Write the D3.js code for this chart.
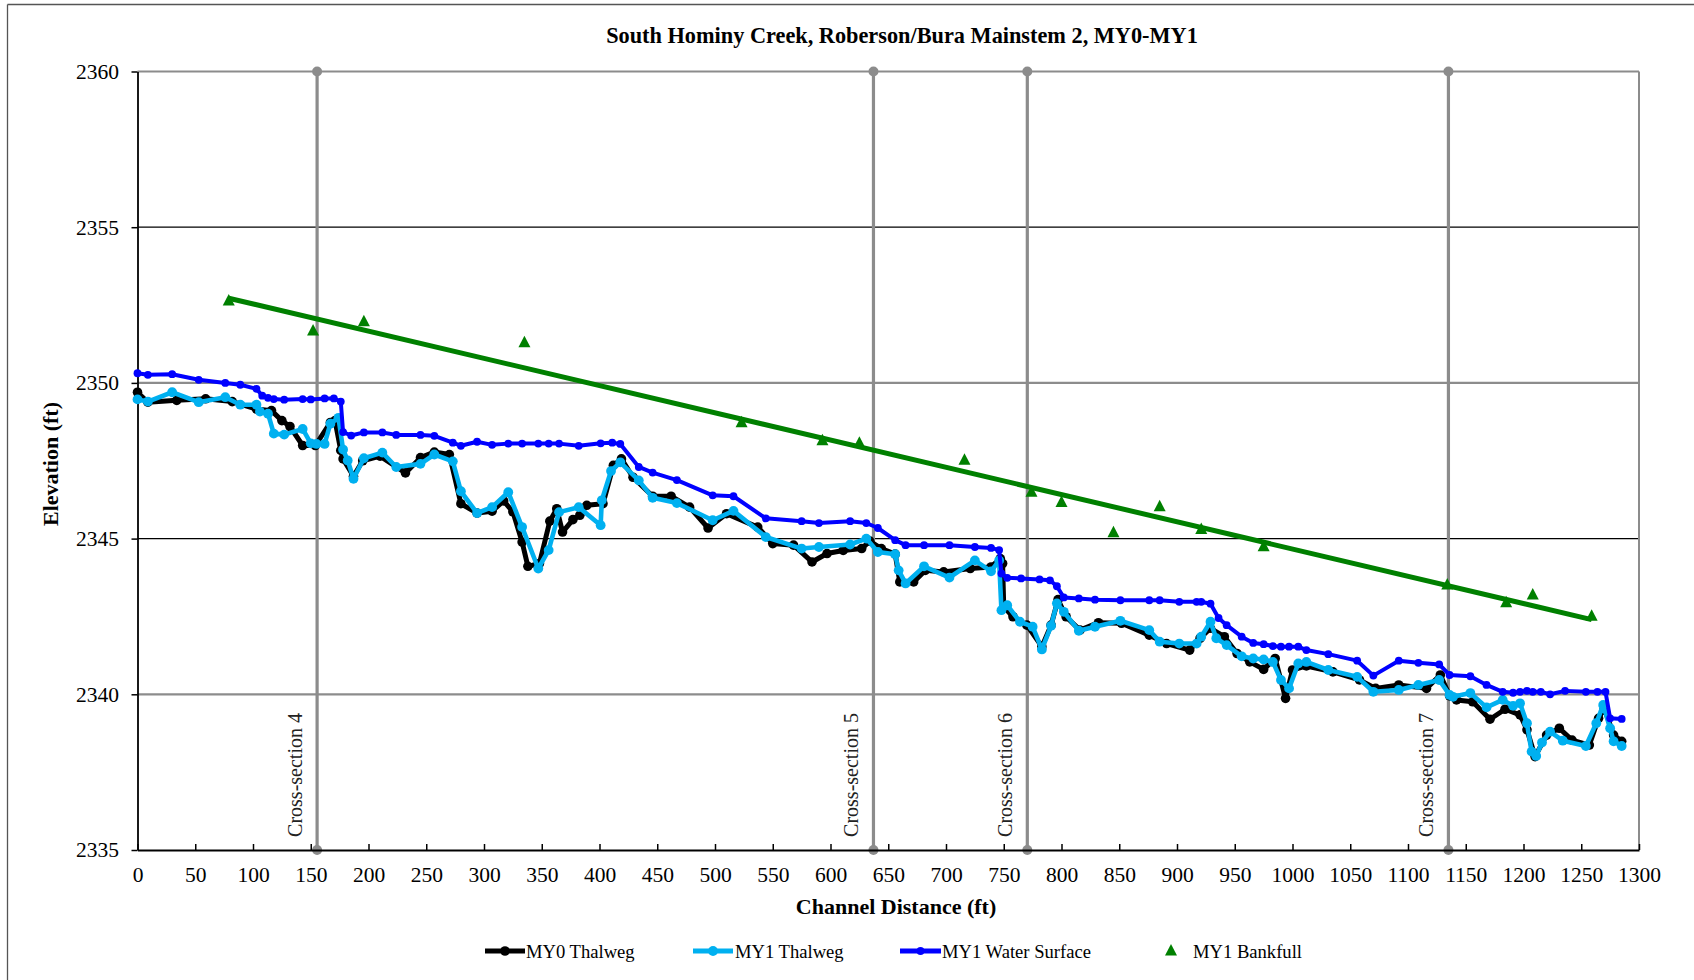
<!DOCTYPE html>
<html><head><meta charset="utf-8">
<script src="https://cdn.jsdelivr.net/npm/d3@7/dist/d3.min.js"></script>
<style>
body{margin:0;background:#fff}
svg{display:block}
text{font-family:"Liberation Serif","Times New Roman",serif;fill:#000}
</style>
</head><body>
<svg id="chart" width="1694" height="980"></svg>
<script>
// ---------- DATA ----------
const chartTitle = "South Hominy Creek, Roberson/Bura Mainstem 2, MY0-MY1";
const xTitle = "Channel Distance (ft)";
const yTitle = "Elevation (ft)";

const my0Thalweg = [[0,2349.70],[9,2349.38],[34,2349.44],[59,2349.49],[82,2349.40],[103,2349.16],[116,2349.11],[125,2348.79],[132,2348.60],[143,2347.99],[154,2347.99],[167,2348.73],[171,2348.79],[176,2347.83],[178,2347.56],[187,2347.00],[195,2347.50],[210,2347.65],[232,2347.11],[245,2347.60],[257,2347.78],[270,2347.70],[280,2346.12],[294,2345.82],[307,2345.88],[317,2346.21],[325,2345.86],[333,2344.89],[338,2344.11],[348,2344.20],[357,2345.56],[363,2345.96],[368,2345.21],[377,2345.61],[383,2345.75],[389,2346.07],[403,2346.12],[412,2347.35],[419,2347.56],[429,2346.97],[446,2346.36],[462,2346.36],[478,2346.01],[494,2345.34],[510,2345.80],[537,2345.37],[550,2344.84],[568,2344.79],[584,2344.25],[597,2344.52],[611,2344.62],[627,2344.68],[634,2344.92],[644,2344.68],[656,2344.50],[660,2343.61],[672,2343.61],[682,2343.98],[698,2343.93],[721,2344.04],[739,2344.09],[747,2344.36],[749,2344.20],[750,2342.81],[758,2342.49],[770,2342.22],[783,2341.53],[791,2342.22],[797,2343.04],[804,2342.49],[816,2342.06],[832,2342.30],[852,2342.28],[876,2341.90],[891,2341.63],[911,2341.42],[920,2341.80],[929,2342.12],[941,2341.85],[952,2341.31],[963,2341.04],[975,2340.80],[985,2341.15],[994,2339.87],[1000,2340.78],[1012,2340.91],[1035,2340.72],[1058,2340.46],[1072,2340.19],[1092,2340.30],[1116,2340.19],[1128,2340.62],[1136,2339.95],[1142,2339.82],[1156,2339.76],[1171,2339.20],[1184,2339.52],[1197,2339.34],[1203,2338.86],[1210,2338.00],[1220,2338.69],[1231,2338.91],[1242,2338.53],[1257,2338.37],[1265,2339.23],[1270,2339.55],[1278,2338.69],[1285,2338.49]];

const my1Thalweg = [[0,2349.47],[9,2349.40],[30,2349.70],[53,2349.38],[76,2349.54],[89,2349.30],[103,2349.30],[106,2349.08],[113,2349.01],[118,2348.37],[127,2348.34],[143,2348.52],[150,2348.06],[155,2348.04],[162,2348.04],[167,2348.69],[174,2348.88],[178,2347.86],[182,2347.51],[187,2346.92],[196,2347.58],[212,2347.76],[224,2347.30],[245,2347.40],[257,2347.70],[273,2347.48],[280,2346.52],[294,2345.82],[307,2346.01],[321,2346.49],[333,2345.37],[347,2344.04],[356,2344.63],[365,2345.85],[382,2346.01],[401,2345.43],[402,2346.23],[410,2347.17],[418,2347.45],[434,2346.87],[446,2346.31],[467,2346.14],[498,2345.59],[516,2345.89],[544,2345.05],[575,2344.68],[590,2344.73],[617,2344.81],[631,2345.00],[641,2344.57],[656,2344.50],[659,2343.98],[665,2343.56],[681,2344.11],[703,2343.75],[725,2344.30],[739,2343.95],[746,2344.30],[748,2342.70],[753,2342.86],[764,2342.33],[775,2342.17],[783,2341.44],[791,2342.20],[796,2342.92],[802,2342.65],[815,2342.04],[829,2342.17],[851,2342.36],[876,2342.06],[885,2341.69],[902,2341.63],[917,2341.63],[921,2341.85],[929,2342.33],[934,2341.80],[943,2341.58],[956,2341.22],[966,2341.15],[975,2341.12],[983,2341.04],[990,2340.46],[997,2340.19],[1005,2340.99],[1012,2341.04],[1031,2340.78],[1056,2340.56],[1070,2340.08],[1092,2340.14],[1109,2340.30],[1127,2340.46],[1136,2339.98],[1139,2339.92],[1154,2340.04],[1168,2339.58],[1182,2339.82],[1191,2339.63],[1197,2339.71],[1203,2339.07],[1207,2338.16],[1211,2338.02],[1216,2338.45],[1223,2338.80],[1234,2338.51],[1254,2338.34],[1263,2339.07],[1269,2339.66],[1275,2338.91],[1278,2338.49],[1285,2338.34]];

const my1WaterSurface = [[0,2350.31],[9,2350.26],[30,2350.28],[53,2350.10],[76,2350.00],[89,2349.94],[103,2349.81],[108,2349.59],[113,2349.52],[118,2349.48],[127,2349.46],[143,2349.48],[150,2349.47],[162,2349.50],[170,2349.50],[176,2349.40],[178,2348.42],[185,2348.31],[196,2348.41],[212,2348.41],[224,2348.33],[245,2348.33],[257,2348.30],[273,2348.08],[280,2347.98],[294,2348.11],[307,2348.01],[321,2348.05],[333,2348.05],[347,2348.05],[356,2348.05],[365,2348.05],[382,2347.98],[401,2348.06],[411,2348.08],[418,2348.04],[434,2347.30],[446,2347.12],[467,2346.88],[498,2346.39],[516,2346.36],[544,2345.65],[575,2345.56],[590,2345.50],[617,2345.56],[631,2345.50],[641,2345.34],[656,2344.95],[665,2344.79],[681,2344.79],[703,2344.79],[725,2344.73],[739,2344.70],[746,2344.63],[748,2343.88],[753,2343.74],[765,2343.72],[781,2343.69],[790,2343.66],[796,2343.47],[802,2343.11],[815,2343.08],[829,2343.04],[851,2343.02],[876,2343.02],[885,2343.02],[902,2342.97],[917,2342.97],[921,2342.97],[929,2342.91],[936,2342.45],[943,2342.22],[956,2341.85],[966,2341.65],[975,2341.61],[983,2341.55],[990,2341.53],[997,2341.53],[1005,2341.53],[1012,2341.42],[1031,2341.29],[1056,2341.08],[1070,2340.60],[1092,2341.08],[1109,2341.01],[1127,2340.96],[1136,2340.62],[1154,2340.58],[1168,2340.30],[1182,2340.08],[1191,2340.05],[1197,2340.08],[1203,2340.11],[1208,2340.08],[1215,2340.08],[1223,2340.00],[1236,2340.11],[1254,2340.08],[1264,2340.08],[1271,2340.08],[1275,2339.23],[1285,2339.21]];

const my1Bankfull = [[79,2352.63],[152,2351.67],[196,2351.96],[335,2351.29],[523,2348.72],[593,2348.14],[625,2348.06],[716,2347.52],[774,2346.49],[800,2346.16],[845,2345.19],[885,2346.02],[921,2345.29],[975,2344.74],[1134,2343.51],[1185,2342.94],[1208,2343.19],[1259,2342.51]];

const bankfullTrend = [[79,2352.72],[1259,2342.40]];

const crossSectionNames = ["Cross-section 4","Cross-section 5","Cross-section 6","Cross-section 7"];
const crossSectionDist = [155.5, 637.2, 770.4, 1135.0];

const xTickValues = [0,50,100,150,200,250,300,350,400,450,500,550,600,650,700,750,800,850,900,950,1000,1050,1100,1150,1200,1250,1300];
const yTickValues = [2335,2340,2345,2350,2355,2360];

const legendNames = ["MY0 Thalweg","MY1 Thalweg","MY1 Water Surface","MY1 Bankfull"];

// ---------- DRAWING ----------
const svg = d3.select("#chart");
const pL = 137.5, pR = 1639, pT = 71.5, pB = 850;
const x = d3.scaleLinear().domain([0,1300]).range([pL,pR]);
const y = d3.scaleLinear().domain([2335,2360]).range([pB,pT]);
const gray = "#8c8c8c";
const serif = "'Liberation Serif','Times New Roman',serif";

// outer frame
svg.append("line").attr("x1",7.5).attr("x2",7.5).attr("y1",4.5).attr("y2",980).attr("stroke","#555").attr("stroke-width",1.3);
svg.append("line").attr("x1",7.5).attr("x2",1694).attr("y1",4.5).attr("y2",4.5).attr("stroke","#555").attr("stroke-width",1.3);

// title
svg.append("text").attr("x",902).attr("y",43).attr("text-anchor","middle")
  .style("font-family",serif).style("font-size","22.3px").style("font-weight","bold").text(chartTitle);

// horizontal gridlines
yTickValues.filter(v => v > 2335).forEach(v => {
  const isGray = v % 10 === 0;
  svg.append("line").attr("x1",pL).attr("x2",pR).attr("y1",y(v)).attr("y2",y(v))
    .attr("stroke", isGray ? gray : "#000").attr("stroke-width", isGray ? 2.2 : 1.2);
});
// right border
svg.append("line").attr("x1",pR).attr("x2",pR).attr("y1",pT).attr("y2",pB)
  .attr("stroke",gray).attr("stroke-width",2);

// cross-section lines
const cs = svg.append("g");
crossSectionDist.forEach((d,i) => {
  cs.append("line").attr("x1",x(d)).attr("x2",x(d)).attr("y1",y(2360)).attr("y2",y(2335))
    .attr("stroke",gray).attr("stroke-width",3.2);
  [2360,2335].forEach(e => cs.append("circle").attr("cx",x(d)).attr("cy",y(e)).attr("r",5).attr("fill",gray));
  cs.append("text").attr("transform",`translate(${x(d)-15},${y(2335.42)}) rotate(-90)`)
    .attr("text-anchor","start").style("font-family",serif).style("font-size","20px").style("fill","#222").text(crossSectionNames[i]);
});

// axes
const yAxis = svg.append("g").attr("transform",`translate(${pL},0)`)
  .call(d3.axisLeft(y).tickValues(yTickValues).tickSize(6).tickSizeOuter(0).tickPadding(12.5).tickFormat(d3.format("d")));
yAxis.select(".domain").attr("stroke","#000").attr("stroke-width",1.8);
yAxis.selectAll(".tick line").attr("stroke","#000").attr("stroke-width",1.5);
yAxis.selectAll("text").style("font-size","21.5px").style("font-family",serif).attr("fill","#000");

const xAxis = svg.append("g").attr("transform",`translate(0,${pB})`)
  .call(d3.axisBottom(x).tickValues(xTickValues).tickSize(-6).tickSizeOuter(0).tickFormat(d3.format("d")));
xAxis.select(".domain").attr("stroke","#000").attr("stroke-width",2.2);
xAxis.selectAll(".tick line").attr("stroke","#000").attr("stroke-width",1.5);
xAxis.selectAll("text").attr("y",32).attr("dy",0).style("font-size","21.5px").style("font-family",serif).attr("fill","#000");

// axis titles
svg.append("text").attr("x",896).attr("y",914).attr("text-anchor","middle")
  .style("font-family",serif).style("font-size","22px").style("font-weight","bold").text(xTitle);
svg.append("text").attr("transform","translate(58,464) rotate(-90)").attr("text-anchor","middle")
  .style("font-family",serif).style("font-size","22px").style("font-weight","bold").text(yTitle);

// series
const line = d3.line().x(d => x(d[0])).y(d => y(d[1]));
function drawSeries(data, color, lw, r) {
  const g = svg.append("g");
  g.append("path").datum(data).attr("d",line).attr("fill","none").attr("stroke",color)
    .attr("stroke-width",lw).attr("stroke-linejoin","round");
  g.selectAll("circle").data(data).join("circle").attr("cx",d=>x(d[0])).attr("cy",d=>y(d[1])).attr("r",r).attr("fill",color);
}
drawSeries(my0Thalweg, "#000000", 5, 4.8);
drawSeries(my1Thalweg, "#00b0f0", 4.6, 4.9);
drawSeries(my1WaterSurface, "#0000ff", 4, 3.9);

const tri = (cx,cy) => `M${cx},${cy-7}L${cx+6},${cy+4.5}L${cx-6},${cy+4.5}Z`;
svg.append("g").selectAll("path").data(my1Bankfull).join("path")
  .attr("d",d => tri(x(d[0]),y(d[1]))).attr("fill","#008000");

svg.append("path").datum(bankfullTrend).attr("d",line).attr("fill","none")
  .attr("stroke","#008000").attr("stroke-width",5);

// legend
const legY = 951;
const legItems = [
  {name:legendNames[0], color:"#000000", x0:485, x1:525, tx:526, type:"line", r:4.8},
  {name:legendNames[1], color:"#00b0f0", x0:693, x1:733, tx:735, type:"line", r:4.9},
  {name:legendNames[2], color:"#0000ff", x0:900, x1:941, tx:942, type:"line", r:3.9},
  {name:legendNames[3], color:"#008000", x0:1171, x1:1171, tx:1193, type:"tri"}
];
legItems.forEach(it => {
  if (it.type === "line") {
    svg.append("line").attr("x1",it.x0).attr("x2",it.x1).attr("y1",legY).attr("y2",legY)
      .attr("stroke",it.color).attr("stroke-width",5);
    svg.append("circle").attr("cx",(it.x0+it.x1)/2).attr("cy",legY).attr("r",it.r).attr("fill",it.color);
  } else {
    svg.append("path").attr("d",tri(it.x0,legY)).attr("fill",it.color);
  }
  svg.append("text").attr("x",it.tx).attr("y",legY+6.5).style("font-family",serif).style("font-size","18.6px").text(it.name);
});
</script>
</body></html>
